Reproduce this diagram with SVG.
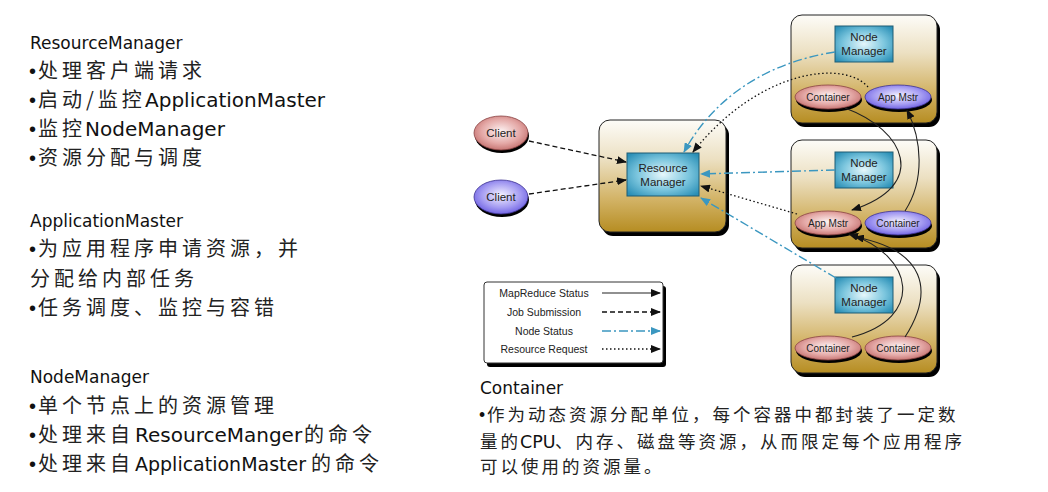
<svg xmlns="http://www.w3.org/2000/svg" width="1048" height="492" viewBox="0 0 1048 492">
<style>
.h{font-family:"DejaVu Sans","Noto Sans CJK SC",sans-serif;font-size:17px;fill:#111}
.t{font-family:"DejaVu Sans","Noto Sans CJK SC",sans-serif;font-size:20px;fill:#111}
.bu{font-family:"Liberation Sans",Arial,sans-serif;font-size:20px;fill:#111}
.cj{font-family:"Noto Sans CJK SC",sans-serif;font-size:20px;letter-spacing:4px;fill:#222}
.cs{font-family:"Noto Sans CJK SC",sans-serif;font-size:17.5px;letter-spacing:3px;fill:#222}
.ts{font-family:"DejaVu Sans",sans-serif;font-size:17.5px;fill:#111}
.bs{font-family:"Liberation Sans",Arial,sans-serif;font-size:17.5px;fill:#111}
.lbl{font-family:"Liberation Sans",Arial,sans-serif;font-size:11.5px;fill:#222;text-anchor:middle}
.el{font-family:"Liberation Sans",Arial,sans-serif;font-size:10px;fill:#222;text-anchor:middle}
.lg{font-family:"Liberation Sans",Arial,sans-serif;font-size:10.5px;fill:#222;text-anchor:middle}
.box{fill:url(#boxGrad);stroke:#222;stroke-width:1}
.shd{fill:#000}
.nm{fill:url(#nmGrad);stroke:#1f5c74;stroke-width:1}
.pk{fill:url(#pinkGrad);stroke:#8a4444;stroke-width:0.8}
.pu{fill:url(#purpGrad);stroke:#3d3290;stroke-width:0.8}
.solid{fill:none;stroke:#222;stroke-width:1.1;marker-end:url(#ab)}
.dash{fill:none;stroke:#111;stroke-width:1.3;stroke-dasharray:5 3;marker-end:url(#ab)}
.dot{fill:none;stroke:#111;stroke-width:1.3;stroke-dasharray:1.5 2.5;marker-end:url(#ab)}
.blue{fill:none;stroke:#3b97c0;stroke-width:1.4;stroke-dasharray:9 3 2 3;marker-end:url(#abb)}
</style>
<defs>
<linearGradient id="boxGrad" x1="0" y1="0" x2="0" y2="1">
<stop offset="0" stop-color="#fdfcf8"/>
<stop offset="0.35" stop-color="#ece0c2"/>
<stop offset="0.7" stop-color="#d3b468"/>
<stop offset="1" stop-color="#b68d22"/>
</linearGradient>
<radialGradient id="nmGrad" cx="0.5" cy="0.5" r="0.65">
<stop offset="0" stop-color="#e6f7fb"/>
<stop offset="0.55" stop-color="#7cc6de"/>
<stop offset="1" stop-color="#2a8fb6"/>
</radialGradient>
<radialGradient id="pinkGrad" cx="0.5" cy="0.45" r="0.6">
<stop offset="0" stop-color="#fdf3f3"/>
<stop offset="0.6" stop-color="#e4a8a6"/>
<stop offset="1" stop-color="#c06a68"/>
</radialGradient>
<radialGradient id="purpGrad" cx="0.5" cy="0.45" r="0.6">
<stop offset="0" stop-color="#f5f3ff"/>
<stop offset="0.6" stop-color="#a59cf2"/>
<stop offset="1" stop-color="#6658e0"/>
</radialGradient>
<marker id="ab" markerWidth="10" markerHeight="8" refX="9" refY="4" orient="auto" markerUnits="userSpaceOnUse">
<path d="M0,0 L10,4 L0,8 z" fill="#111"/>
</marker>
<marker id="abb" markerWidth="10" markerHeight="8" refX="9" refY="4" orient="auto" markerUnits="userSpaceOnUse">
<path d="M0,0 L10,4 L0,8 z" fill="#3b97c0"/>
</marker>
</defs>

<!-- Left descriptive text -->
<g id="text-rm">
<text class="h" x="30" y="49">ResourceManager</text>
<text x="29" y="78"><tspan class="bu">•</tspan><tspan class="cj" x="38">处理客户端请求</tspan></text>
<text x="29" y="107"><tspan class="bu">•</tspan><tspan class="cj" x="38">启动/监控</tspan><tspan class="t" x="145">ApplicationMaster</tspan></text>
<text x="29" y="136"><tspan class="bu">•</tspan><tspan class="cj" x="38">监控</tspan><tspan class="t" x="85">NodeManager</tspan></text>
<text x="29" y="165"><tspan class="bu">•</tspan><tspan class="cj" x="38">资源分配与调度</tspan></text>
</g>
<g id="text-am">
<text class="h" x="30" y="227">ApplicationMaster</text>
<text x="29" y="256"><tspan class="bu">•</tspan><tspan class="cj" x="38">为应用程序申请资源，并</tspan></text>
<text class="cj" x="30" y="286">分配给内部任务</text>
<text x="29" y="315"><tspan class="bu">•</tspan><tspan class="cj" x="38">任务调度、监控与容错</tspan></text>
</g>
<g id="text-nm">
<text class="h" x="30" y="383">NodeManager</text>
<text x="29" y="413"><tspan class="bu">•</tspan><tspan class="cj" x="38">单个节点上的资源管理</tspan></text>
<text x="29" y="442"><tspan class="bu">•</tspan><tspan class="cj" x="38">处理来自</tspan><tspan class="t" x="135">ResourceManger</tspan><tspan class="cj" x="304">的命令</tspan></text>
<text x="29" y="471"><tspan class="bu">•</tspan><tspan class="cj" x="38">处理来自</tspan><tspan class="t" x="135" style="font-size:19px">ApplicationMaster</tspan><tspan class="cj" x="311">的命令</tspan></text>
</g>
<g id="text-container">
<text class="h" x="480" y="394">Container</text>
<text x="479" y="421"><tspan class="bs">•</tspan><tspan class="cs" x="487">作为动态资源分配单位，每个容器中都封装了一定数</tspan></text>
<text x="480" y="448"><tspan class="cs">量的</tspan><tspan class="ts" x="520">CPU</tspan><tspan class="cs" x="555">、内存、磁盘等资源，从而限定每个应用程序</tspan></text>
<text class="cs" x="480" y="473">可以使用的资源量。</text>
</g>

<!-- Resource Manager -->
<g id="resource-manager">
<rect class="shd" x="602" y="124" width="127" height="112" rx="11"/>
<rect class="box" x="599" y="120" width="127" height="112" rx="11"/>
<rect class="nm" x="627" y="153" width="72" height="43"/>
<text class="lbl" x="663" y="172">Resource</text>
<text class="lbl" x="663" y="186">Manager</text>
</g>

<!-- Clients -->
<g id="client1">
<ellipse class="shd" cx="502" cy="136" rx="27" ry="17"/>
<ellipse class="pk" cx="501" cy="133" rx="27" ry="17"/>
<text class="lbl" x="501" y="137">Client</text>
</g>
<g id="client2">
<ellipse class="shd" cx="502" cy="200" rx="27" ry="17"/>
<ellipse class="pu" cx="501" cy="197" rx="27" ry="17"/>
<text class="lbl" x="501" y="201">Client</text>
</g>

<!-- Node 1 -->
<g id="node1">
<rect class="shd" x="794" y="19" width="146" height="108" rx="11"/>
<rect class="box" x="791" y="15" width="146" height="108" rx="11"/>
<rect class="nm" x="835" y="26" width="58" height="36"/>
<text class="lbl" x="864" y="41">Node</text>
<text class="lbl" x="864" y="55">Manager</text>
<ellipse class="shd" cx="829" cy="100" rx="33" ry="12"/>
<ellipse class="pk" cx="828" cy="97" rx="33" ry="12"/>
<text class="el" x="828" y="101">Container</text>
<ellipse class="shd" cx="899" cy="100" rx="33" ry="12"/>
<ellipse class="pu" cx="898" cy="97" rx="33" ry="12"/>
<text class="el" x="898" y="101">App Mstr</text>
</g>

<!-- Node 2 -->
<g id="node2">
<rect class="shd" x="794" y="144" width="146" height="108" rx="11"/>
<rect class="box" x="791" y="140" width="146" height="108" rx="11"/>
<rect class="nm" x="835" y="152" width="58" height="36"/>
<text class="lbl" x="864" y="167">Node</text>
<text class="lbl" x="864" y="181">Manager</text>
<ellipse class="shd" cx="829" cy="226" rx="33" ry="12"/>
<ellipse class="pk" cx="828" cy="223" rx="33" ry="12"/>
<text class="el" x="828" y="227">App Mstr</text>
<ellipse class="shd" cx="899" cy="226" rx="33" ry="12"/>
<ellipse class="pu" cx="898" cy="223" rx="33" ry="12"/>
<text class="el" x="898" y="227">Container</text>
</g>

<!-- Node 3 -->
<g id="node3">
<rect class="shd" x="794" y="269" width="146" height="108" rx="11"/>
<rect class="box" x="791" y="265" width="146" height="108" rx="11"/>
<rect class="nm" x="835" y="277" width="58" height="36"/>
<text class="lbl" x="864" y="292">Node</text>
<text class="lbl" x="864" y="306">Manager</text>
<ellipse class="shd" cx="829" cy="351" rx="33" ry="12"/>
<ellipse class="pk" cx="828" cy="348" rx="33" ry="12"/>
<text class="el" x="828" y="352">Container</text>
<ellipse class="shd" cx="899" cy="351" rx="33" ry="12"/>
<ellipse class="pk" cx="898" cy="348" rx="33" ry="12"/>
<text class="el" x="898" y="352">Container</text>
</g>

<!-- Legend -->
<g id="legend">
<rect class="shd" x="487" y="286" width="179" height="81" rx="3"/>
<rect x="484" y="282" width="179" height="81" rx="3" fill="#fff" stroke="#333" stroke-width="1"/>
<text class="lg" x="544" y="297">MapReduce Status</text>
<text class="lg" x="544" y="316">Job Submission</text>
<text class="lg" x="544" y="335">Node Status</text>
<text class="lg" x="544" y="353">Resource Request</text>
<line class="solid" x1="602" y1="293" x2="660" y2="293"/>
<line class="dash" x1="602" y1="312" x2="660" y2="312"/>
<line class="blue" x1="602" y1="331" x2="660" y2="331"/>
<line class="dot" x1="602" y1="349" x2="660" y2="349"/>
</g>

<!-- Connectors -->
<g id="connectors">
<path class="dash" d="M529,141 L626,162"/>
<path class="dash" d="M529,194 L626,180"/>
<path class="blue" d="M835,52 C770,62 715,95 684,152"/>
<path class="dot" d="M868,87 C845,60 760,68 693,152"/>
<path class="blue" d="M835,170 L701,174"/>
<path class="dot" d="M797,214 L701,186"/>
<path class="blue" d="M836,278 L701,198"/>
<path class="solid" d="M845,108 C905,130 930,185 852,210"/>
<path class="solid" d="M905,211 C925,180 922,140 907,110"/>
<path class="solid" d="M852,337 C925,318 915,255 849,234"/>
<path class="solid" d="M905,337 C935,290 925,250 855,237"/>
</g>
</svg>
